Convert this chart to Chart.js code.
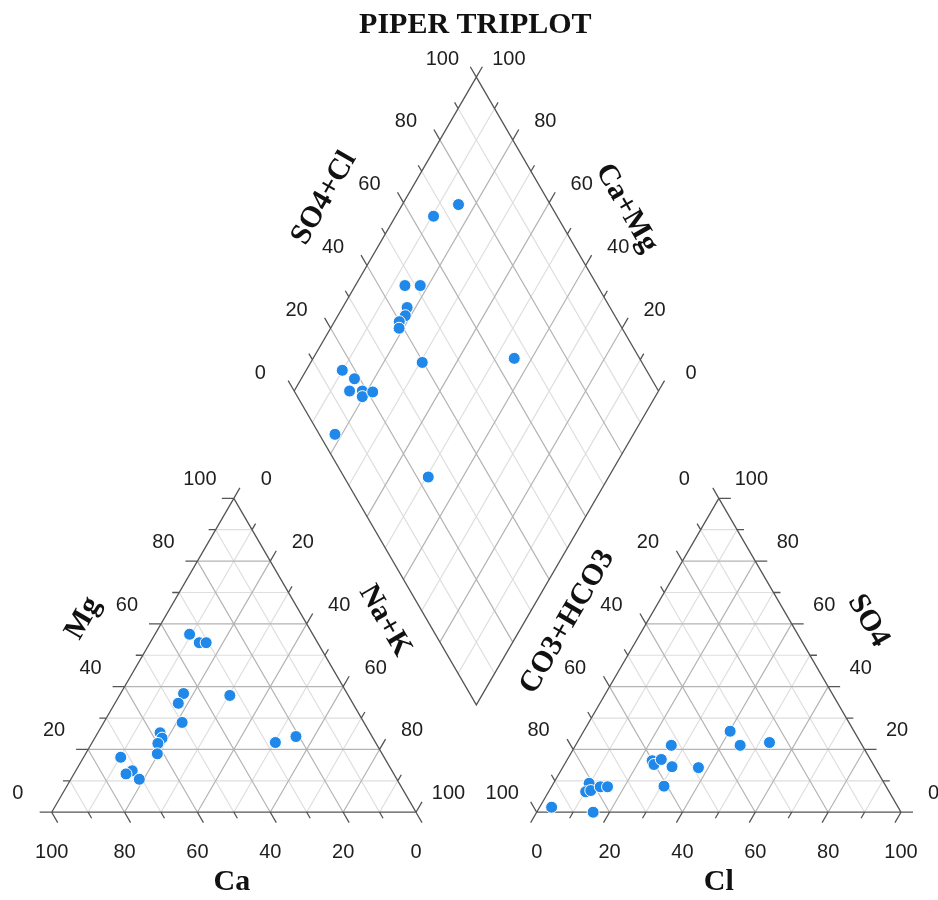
<!DOCTYPE html>
<html>
<head>
<meta charset="utf-8">
<title>Piper Triplot</title>
<script src="https://cdn.jsdelivr.net/npm/chart.js@4/dist/chart.umd.min.js"></script>
<style>
  html, body { margin: 0; padding: 0; background: #ffffff; }
  #wrap { width: 938px; height: 900px; position: relative; }
</style>
</head>
<body>
<div id="wrap"><canvas id="piper" width="938" height="900"></canvas></div>
<script>
// ---- Sample composition (% of meq/L) ----
// Cation triangle: Ca and Mg, Na+K is the remainder
const cationCa = [33.8, 32.5, 30.6, 44.9, 47.9, 32.5, 49.9, 57.6, 57.9, 59.9, 61.7, 72.3, 71.3, 73.5, 70.7, 27.5, 20.9];
const cationMg = [56.7, 54.0, 54.0, 37.8, 34.7, 37.2, 28.6, 25.3, 23.6, 21.9, 18.6, 17.5, 13.2, 12.2, 10.5, 22.2, 24.1];
// Anion triangle: Cl and SO4, CO3+HCO3 is the remainder
const anionCl  = [40.2, 45.2, 52.8, 26.3, 23.5, 24.6, 25.8, 29.9, 37.3, 30.8, 9.8, 10.2, 11.4, 13.4, 15.4, 3.3, 15.5];
const anionSO4 = [25.8, 21.3, 22.2, 21.3, 16.4, 15.2, 16.8, 14.5, 14.2, 8.3, 9.2, 6.5, 6.9, 8.1, 8.1, 1.6, 0.0];
// Central diamond: SO4+Cl and Ca+Mg
const diamondSO4Cl = [74.8, 66.1, 47.2, 51.4, 44.3, 42.5, 39.9, 38.8, 39.7, 65.6, 16.5, 18.5, 15.2, 18.7, 17.8, 21.4, 4.3, 23.1];
const diamondCaMg  = [84.6, 89.6, 86.4, 82.2, 82.3, 81.5, 82.2, 81.2, 69.4, 44.8, 90.1, 85.4, 84.8, 81.3, 80.4, 78.3, 81.9, 49.5];
// Axis tick labels
const tickLabels = [0, 20, 40, 60, 80, 100];

// ---- Layout in plot units (each triangle side = 100 units) ----
const SIN60 = Math.sqrt(3) / 2;
const GAP = 33.13;                       // space between the two triangles
const RIGHT_X0 = 100 + GAP;
const DIAMOND_BASE = { x: 100 + GAP / 2, y: 29.6 };
const VIEW = { xMin: -14.19, xMax: 243.29, yMin: -24.22, yMax: 224.08 };

// vertices for components 1, 2, 3
const LEFT_TRI  = [{ x: 0, y: 0 }, { x: 50, y: 100 * SIN60 }, { x: 100, y: 0 }];                      // Ca, Mg, Na+K
const RIGHT_TRI = [{ x: RIGHT_X0, y: 0 }, { x: RIGHT_X0 + 50, y: 100 * SIN60 }, { x: RIGHT_X0 + 100, y: 0 }]; // CO3+HCO3, SO4, Cl

function ternary(tri, c1, c2, c3) {
  return {
    x: (c1 * tri[0].x + c2 * tri[1].x + c3 * tri[2].x) / 100,
    y: (c1 * tri[0].y + c2 * tri[1].y + c3 * tri[2].y) / 100
  };
}
function diamondPt(caMg, so4Cl) {
  return { x: DIAMOND_BASE.x + (so4Cl - caMg) / 2, y: DIAMOND_BASE.y + (caMg + so4Cl) * SIN60 };
}

const cationPoints = cationCa.map((ca, i) => ternary(LEFT_TRI, ca, cationMg[i], 100 - ca - cationMg[i]));
const anionPoints = anionCl.map((cl, i) => ternary(RIGHT_TRI, 100 - cl - anionSO4[i], anionSO4[i], cl));
const diamondPoints = diamondSO4Cl.map((s, i) => diamondPt(diamondCaMg[i], s));

// Labelled edges: position of value v, outward tick direction (plot units), label offset (px)
const axes = [
  { at: v => ternary(LEFT_TRI, v, 0, 100 - v),   dir: { x: 0.5, y: -SIN60 },  off: [0, 40] },        // Ca
  { at: v => ternary(LEFT_TRI, 100 - v, v, 0),   dir: { x: -1, y: 0 },        off: [-34, -18.5] },   // Mg
  { at: v => ternary(LEFT_TRI, 0, 100 - v, v),   dir: { x: 0.5, y: SIN60 },   off: [32.5, -18.5] },  // Na+K
  { at: v => ternary(RIGHT_TRI, 100 - v, 0, v),  dir: { x: -0.5, y: -SIN60 }, off: [0, 40] },        // Cl
  { at: v => ternary(RIGHT_TRI, v, 100 - v, 0),  dir: { x: -0.5, y: SIN60 },  off: [-34.5, -18.5] }, // CO3+HCO3
  { at: v => ternary(RIGHT_TRI, 0, v, 100 - v),  dir: { x: 1, y: 0 },         off: [32.5, -18.5] },  // SO4
  { at: v => diamondPt(100, v),                  dir: { x: -0.5, y: SIN60 },  off: [-34, -18] },     // SO4+Cl
  { at: v => diamondPt(v, 100),                  dir: { x: 0.5, y: SIN60 },   off: [32.5, -18] }     // Ca+Mg
];

// Axis titles: anchor point, pixel offset, rotation
const titles = [
  { text: 'PIPER TRIPLOT', at: () => diamondPt(100, 100), off: [-1, -52], rot: 0 },
  { text: 'Ca', at: () => ternary(LEFT_TRI, 50, 0, 50), off: [-2, 70], rot: 0 },
  { text: 'Cl', at: () => ternary(RIGHT_TRI, 50, 0, 50), off: [0, 70], rot: 0 },
  { text: 'Mg', at: () => ternary(LEFT_TRI, 50, 50, 0), off: [-59.5, -37], rot: -60 },
  { text: 'Na+K', at: () => ternary(LEFT_TRI, 0, 50, 50), off: [60, -34.6], rot: 60 },
  { text: 'CO3+HCO3', at: () => ternary(RIGHT_TRI, 50, 50, 0), off: [-60.3, -33.3], rot: -60 },
  { text: 'SO4', at: () => ternary(RIGHT_TRI, 0, 50, 50), off: [58.4, -34.5], rot: 60 },
  { text: 'SO4+Cl', at: () => diamondPt(100, 50), off: [-61, -36], rot: -60 },
  { text: 'Ca+Mg', at: () => diamondPt(50, 100), off: [59, -26], rot: 60 }
];

const piperFrame = {
  id: 'piperFrame',
  beforeDatasetsDraw(chart) {
    const { ctx, scales: { x, y } } = chart;
    const px = p => ({ x: x.getPixelForValue(p.x), y: y.getPixelForValue(p.y) });
    const seg = (a, b) => { const p = px(a), q = px(b); ctx.moveTo(p.x, p.y); ctx.lineTo(q.x, q.y); };

    ctx.save();
    ctx.lineWidth = 1.2;

    // grid lines, minor (odd tens) then major (multiples of 20)
    [false, true].forEach(major => {
      ctx.beginPath();
      for (let i = 10; i < 100; i += 10) {
        if ((i % 20 === 0) !== major) continue;
        [LEFT_TRI, RIGHT_TRI].forEach(t => {
          seg(ternary(t, i, 100 - i, 0), ternary(t, i, 0, 100 - i));
          seg(ternary(t, 100 - i, i, 0), ternary(t, 0, i, 100 - i));
          seg(ternary(t, 100 - i, 0, i), ternary(t, 0, 100 - i, i));
        });
        seg(diamondPt(i, 0), diamondPt(i, 100));
        seg(diamondPt(0, i), diamondPt(100, i));
      }
      ctx.strokeStyle = major ? '#b4b4b4' : '#dedede';
      ctx.stroke();
    });

    // outlines
    ctx.beginPath();
    [LEFT_TRI, RIGHT_TRI].forEach(t => {
      const a = px(t[0]), b = px(t[1]), c = px(t[2]);
      ctx.moveTo(a.x, a.y); ctx.lineTo(b.x, b.y); ctx.lineTo(c.x, c.y); ctx.closePath();
    });
    const d = [diamondPt(0, 0), diamondPt(100, 0), diamondPt(100, 100), diamondPt(0, 100)].map(px);
    ctx.moveTo(d[0].x, d[0].y); d.slice(1).forEach(p => ctx.lineTo(p.x, p.y)); ctx.closePath();

    // ticks every 10, longer at every 20
    axes.forEach(ax => {
      for (let v = 0; v <= 100; v += 10) {
        const e = ax.at(v);
        const p0 = px(e);
        const p1 = px({ x: e.x + ax.dir.x, y: e.y + ax.dir.y });
        const len = Math.hypot(p1.x - p0.x, p1.y - p0.y);
        const tl = v % 20 === 0 ? 12 : 7;
        ctx.moveTo(p0.x, p0.y);
        ctx.lineTo(p0.x + (p1.x - p0.x) / len * tl, p0.y + (p1.y - p0.y) / len * tl);
      }
    });
    ctx.strokeStyle = '#555555';
    ctx.lineWidth = 1.3;
    ctx.stroke();

    // tick labels
    ctx.fillStyle = '#1e1e1e';
    ctx.font = '20px "Liberation Sans", Arial, sans-serif';
    ctx.textAlign = 'center';
    ctx.textBaseline = 'middle';
    axes.forEach(ax => {
      tickLabels.forEach(v => {
        const p = px(ax.at(v));
        ctx.fillText(String(v), p.x + ax.off[0], p.y + ax.off[1]);
      });
    });

    // titles
    ctx.fillStyle = '#111111';
    ctx.font = 'bold 30px "Liberation Serif", "Times New Roman", serif';
    titles.forEach(t => {
      const p = px(t.at());
      ctx.save();
      ctx.translate(p.x + t.off[0], p.y + t.off[1]);
      ctx.rotate(t.rot * Math.PI / 180);
      ctx.fillText(t.text, 0, 0);
      ctx.restore();
    });
    ctx.restore();
  }
};

const pointStyle = {
  pointRadius: 6,
  pointHoverRadius: 6,
  pointBackgroundColor: '#1f88e8',
  pointBorderColor: '#ffffff',
  pointBorderWidth: 1
};

new Chart(document.getElementById('piper'), {
  type: 'scatter',
  data: {
    datasets: [
      Object.assign({ label: 'Cations', data: cationPoints }, pointStyle),
      Object.assign({ label: 'Anions', data: anionPoints }, pointStyle),
      Object.assign({ label: 'Diamond', data: diamondPoints }, pointStyle)
    ]
  },
  options: {
    responsive: false,
    animation: false,
    layout: { padding: 0, autoPadding: false },
    scales: {
      x: { type: 'linear', min: VIEW.xMin, max: VIEW.xMax, display: false },
      y: { type: 'linear', min: VIEW.yMin, max: VIEW.yMax, display: false }
    },
    plugins: { legend: { display: false }, tooltip: { enabled: false } }
  },
  plugins: [piperFrame]
});
</script>
</body>
</html>
